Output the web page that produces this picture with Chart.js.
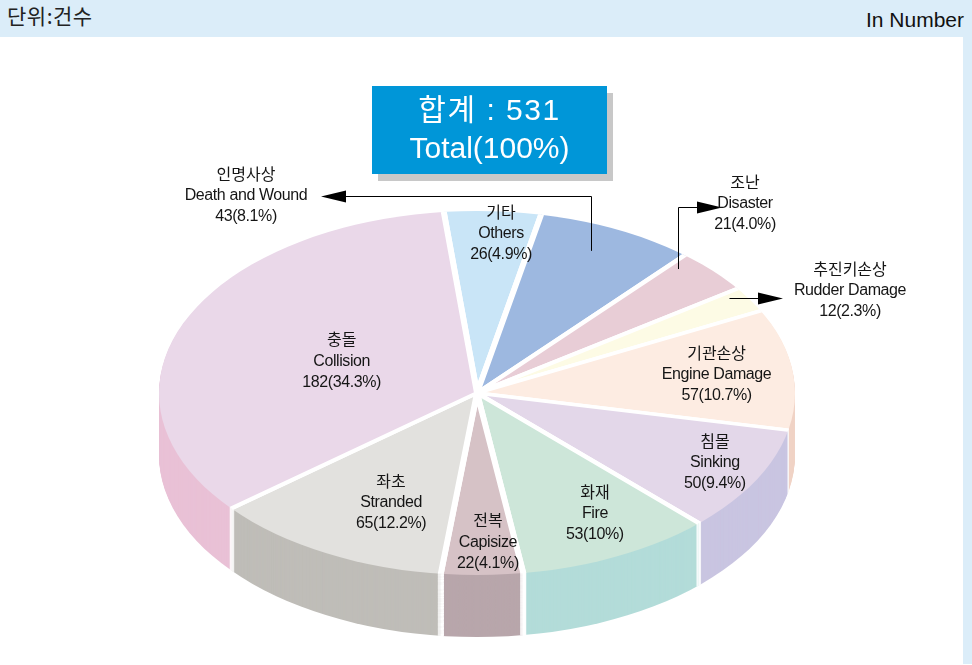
<!DOCTYPE html>
<html>
<head>
<meta charset="utf-8">
<script src="https://cdn.jsdelivr.net/npm/chart.js@4.4.1/dist/chart.umd.min.js"></script>
<style>
  body { margin: 0; width: 972px; height: 665px; overflow: hidden; background: #fff; position: relative; }
  .band { position: absolute; left: 0; top: 0; width: 972px; height: 37px; background: #dbedf9; }
  .strip { position: absolute; left: 963px; top: 37px; width: 9px; height: 627px; background: #dbedf9; }
  .unit-ko { position: absolute; left: 7px; top: 0px; font: 21px "Noto Sans CJK KR", sans-serif; color: #222; letter-spacing: 0.5px; }
  .unit-en { position: absolute; right: 8px; top: 8px; font: 21px "Liberation Sans", sans-serif; color: #111; }
  #chart { position: absolute; left: 0; top: 0; z-index: 1; }
  .total {
    position: absolute; left: 372px; top: 86px; width: 235px; height: 88px; z-index: 2;
    background: #0096d8; color: #fff; text-align: center;
    box-shadow: 6px 7px 0 #c8c8c8;
    font-family: "Liberation Sans", "Noto Sans CJK KR", sans-serif; font-size: 30px;
  }
  .total div { height: 38px; line-height: 38px; }
  .total .l1 { margin-top: 5px; letter-spacing: 1.5px; }
</style>
</head>
<body>
<div class="band"></div>
<div class="strip"></div>
<div class="unit-ko">단위:건수</div>
<div class="unit-en">In Number</div>
<div class="total"><div class="l1">합계 : 531</div><div>Total(100%)</div></div>
<canvas id="chart" width="972" height="665"></canvas>
<script>
const namesKo = ["기타", "인명사상", "조난", "추진키손상", "기관손상", "침몰", "화재", "전복", "좌초", "충돌"];
const namesEn = ["Others", "Death and Wound", "Disaster", "Rudder Damage", "Engine Damage", "Sinking", "Fire", "Capisize", "Stranded", "Collision"];
const counts = [26, 43, 21, 12, 57, 50, 53, 22, 65, 182];
const shares = ["4.9", "8.1", "4.0", "2.3", "10.7", "9.4", "10", "4.1", "12.2", "34.3"];

const topColors = ["#c9e5f7", "#9db8e0", "#e8cdd6", "#fdfbe5", "#fdece2", "#e3d7e9", "#cde6d9", "#d6c2c6", "#e2e1de", "#ead8e9"];
const sideColors = ["#a9cde6", "#7f9dcb", "#d3b3bf", "#ece9c8", "#f0d3c6", "#c9c5e1", "#b3dcd9", "#b8a6ab", "#bfbdb8", "#e9c1d6"];

// look of the tilted pie
const faceRadius = 318;
const tilt = 182 / 318;
const depth = 62;
const gap = 6;

// where the inner labels sit: share of the radius, and how far along the slice
const labelRadius = [0.88, null, null, null, 0.76, 0.84, 0.76, 0.82, 0.66, 0.46];
const labelAt = [0.62, 0.5, 0.5, 0.5, 0.5, 0.45, 0.42, 0.4, 0.4, 0.5];

// callouts for the small slices: anchor inside the slice, then elbow and arrow tip
const callouts = [
  { index: 1, at: 0.45, frac: 0.86, elbowY: 196, tipX: 321, textX: 246, textY: 196 },
  { index: 2, at: 0.15, frac: 0.93, elbowY: 207, tipX: 722, textX: 745, textY: 204 },
  { index: 3, at: 0.2, frac: 0.95, elbowY: null, tipX: 783, textX: 850, textY: 291 },
];

function toScreen(arc, angle, frac) {
  const r = faceRadius * frac;
  return { x: arc.x + Math.cos(angle) * r, y: arc.y + Math.sin(angle) * r * tilt };
}

function drawLabel(ctx, i, x, y) {
  ctx.fillStyle = "#151515";
  ctx.textAlign = "center";
  ctx.textBaseline = "middle";
  ctx.letterSpacing = "0px";
  ctx.font = '16px "Noto Sans CJK KR"';
  ctx.fillText(namesKo[i], x, y - 22);
  ctx.letterSpacing = "-0.4px";
  ctx.font = '16px "Liberation Sans"';
  ctx.fillText(namesEn[i], x, y);
  ctx.fillText(counts[i] + "(" + shares[i] + "%)", x, y + 21);
}

function arrowHead(ctx, x, y, dir) {
  ctx.beginPath();
  ctx.moveTo(x, y);
  ctx.lineTo(x - dir * 25, y - 6);
  ctx.lineTo(x - dir * 25, y + 6);
  ctx.closePath();
  ctx.fill();
}

const pie3d = {
  id: "pie3d",
  beforeDatasetsDraw(chart) {
    const ctx = chart.ctx;
    const arcs = chart.getDatasetMeta(0).data;
    const cx = arcs[0].x;
    const cy = arcs[0].y;
    // side walls first, one pixel row at a time, then the top face
    for (let d = depth; d >= 0; d--) {
      ctx.save();
      ctx.translate(0, cy + d);
      ctx.scale(1, tilt);
      ctx.translate(0, -cy);
      ctx.beginPath();
      ctx.arc(cx, cy, faceRadius, 0, Math.PI * 2);
      ctx.clip();
      arcs.forEach((arc, i) => {
        if (d > 0) {
          const side = Object.create(arc);
          side.options = Object.assign({}, arc.options, { backgroundColor: sideColors[i] });
          side.draw(ctx);
        } else {
          arc.draw(ctx);
        }
      });
      ctx.restore();
    }
    return false;
  },
  afterDraw(chart) {
    const ctx = chart.ctx;
    const arcs = chart.getDatasetMeta(0).data;
    ctx.save();
    arcs.forEach((arc, i) => {
      if (labelRadius[i] == null) return;
      const angle = arc.startAngle + (arc.endAngle - arc.startAngle) * labelAt[i];
      const p = toScreen(arc, angle, labelRadius[i]);
      drawLabel(ctx, i, p.x, p.y);
    });

    ctx.strokeStyle = "#000";
    ctx.lineWidth = 1;
    callouts.forEach((c) => {
      const arc = arcs[c.index];
      const angle = arc.startAngle + (arc.endAngle - arc.startAngle) * c.at;
      const a = toScreen(arc, angle, c.frac);
      const ax = Math.round(a.x) + 0.5;
      const dir = c.tipX > ax ? 1 : -1;
      let y = Math.round(a.y) + 0.5;
      ctx.beginPath();
      if (c.elbowY != null) {
        ctx.moveTo(ax, a.y);
        y = c.elbowY + 0.5;
        ctx.lineTo(ax, y);
      } else {
        ctx.moveTo(ax, y);
      }
      ctx.lineTo(c.tipX - dir * 20, y);
      ctx.stroke();
      ctx.fillStyle = "#000";
      arrowHead(ctx, c.tipX, y, dir);
      drawLabel(ctx, c.index, c.textX, c.textY);
    });
    ctx.restore();
  },
};

new Chart(document.getElementById("chart"), {
  type: "pie",
  data: {
    labels: namesEn,
    datasets: [{
      data: counts,
      backgroundColor: topColors,
      borderColor: "#ffffff",
      borderWidth: gap,
    }],
  },
  options: {
    responsive: false,
    animation: false,
    events: [],
    rotation: -6,
    // the white outer stroke lies fully outside the clip circle
    radius: faceRadius + gap,
    layout: { padding: { left: 0, right: 18, top: 121, bottom: 0 } },
    plugins: { legend: { display: false }, tooltip: { enabled: false } },
  },
  plugins: [pie3d],
});
</script>
</body>
</html>
